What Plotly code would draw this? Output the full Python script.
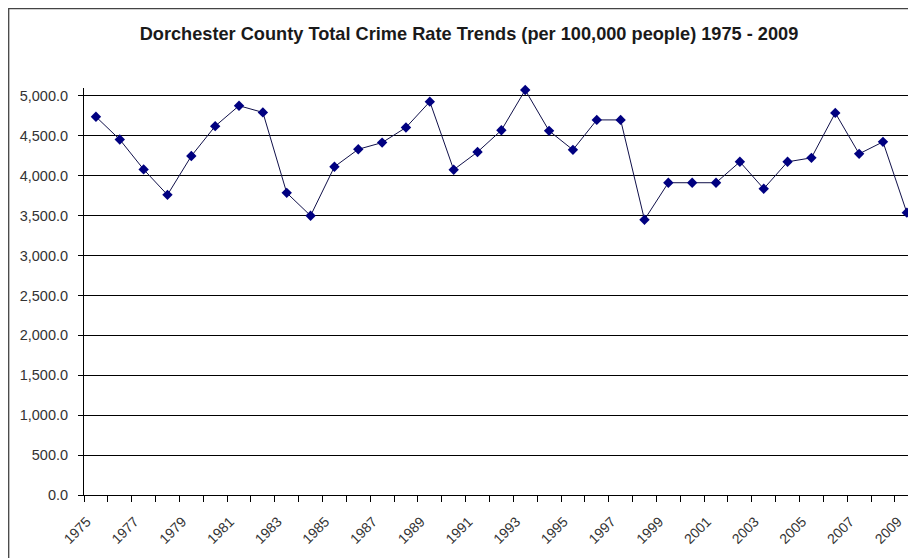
import plotly.graph_objects as go

years = list(range(1975, 2010))
crime_rate = [4740, 4454, 4080, 3761, 4248, 4622, 4878, 4794, 3786, 3500,
              4113, 4332, 4416, 4605, 4929, 4076, 4298, 4571, 5075, 4563,
              4325, 4700, 4700, 3450, 3913, 3913, 3913, 4175, 3838, 4175,
              4225, 4788, 4275, 4425, 3538]
label_years = years[::2]
title_text = "Dorchester County Total Crime Rate Trends (per 100,000 people) 1975 - 2009"

# page body has an 8px margin, so the figure is sized to fill the rest of the window
W, H = 908, 550
ML, MR, MT, MB = 76, 0, 80, 63

fig = go.Figure()
fig.add_trace(go.Scatter(
    x=years, y=crime_rate, mode="lines+markers",
    line=dict(color="#10104a", width=1),
    marker=dict(symbol="diamond", size=8, color="#000080"),
    showlegend=False, cliponaxis=False,
))

plot_w = W - ML - MR
plot_h = H - MT - MB
cat_w = 23.85
x_end = 1974.5 + plot_w / cat_w

fig.update_layout(
    width=W, height=H,
    margin=dict(l=ML, r=MR, t=MT, b=MB, autoexpand=False),
    paper_bgcolor="white", plot_bgcolor="white",
    title=dict(text="<b>" + title_text + "</b>", x=461 / W, xref="container",
               xanchor="center", y=1 - 26 / H, yref="container", yanchor="middle",
               font=dict(family="Arial, Liberation Sans", size=18.2, color="#1a1a1a")),
    font=dict(family="Arial, Liberation Sans", color="#333333"),
    xaxis=dict(
        range=[1974.5, x_end], tickmode="array", tickvals=label_years,
        ticktext=[str(y) for y in label_years], tickangle=-45,
        ticks="outside", ticklen=8, tickcolor="rgba(0,0,0,0)",
        showgrid=False, zeroline=False, showline=True, linecolor="black", linewidth=1,
        tickfont=dict(size=14, color="#333333"), automargin=False,
        ticklabelstandoff=4, ticklabelshift=-9,
        minor=dict(tickmode="array", tickvals=[y - 0.5 for y in years] + [years[-1] + 0.5],
                   ticks="outside", ticklen=6, tickcolor="black", tickwidth=1, showgrid=False),
    ),
    yaxis=dict(
        range=[0, 5100], dtick=500, tick0=0, tickformat=",.1f",
        ticks="outside", ticklen=5, tickcolor="black",
        showgrid=True, gridcolor="black", gridwidth=1,
        zeroline=False, showline=True, linecolor="black", linewidth=1,
        tickfont=dict(size=14.5, color="#333333"), automargin=False,
        ticklabelstandoff=7,
    ),
    shapes=[dict(type="rect", xref="paper", yref="paper",
                 x0=(0.7 - ML) / plot_w, x1=(W + 20 - ML) / plot_w,
                 y0=-(MB + 20) / plot_h,
                 y1=1 + (MT - 0.7) / plot_h,
                 line=dict(color="#444444", width=1.3), layer="below")],
)

fig.write_html("out.html")
